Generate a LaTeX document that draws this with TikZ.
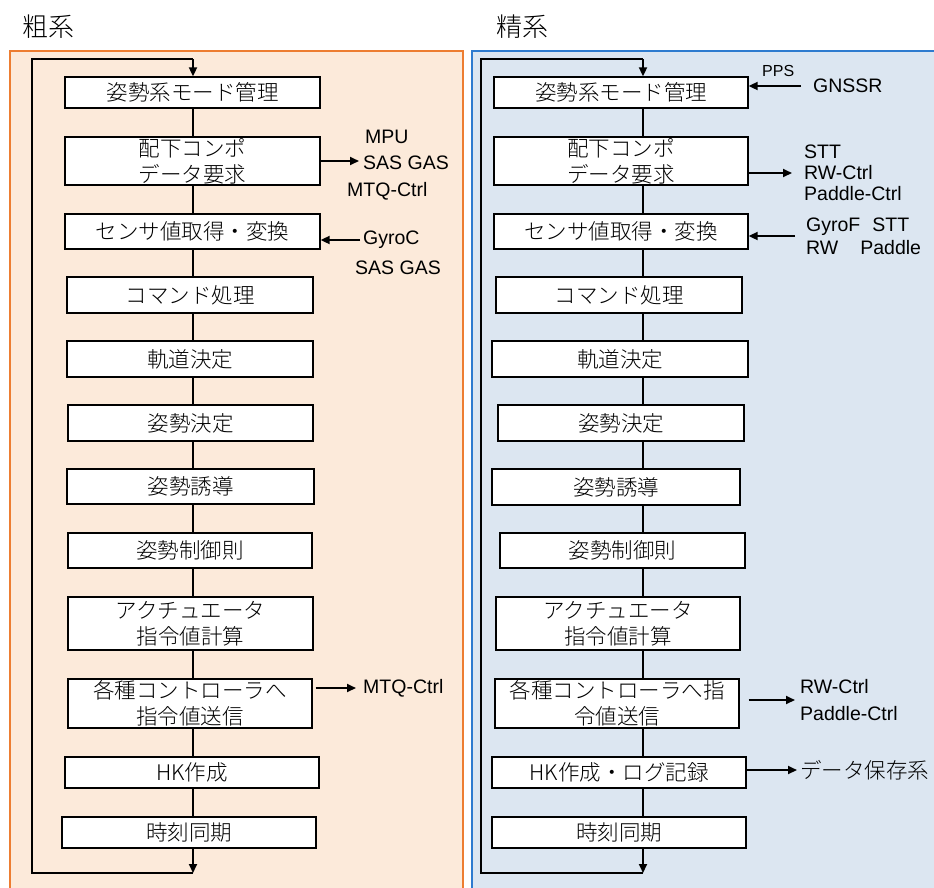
\documentclass[tikz,border=0pt]{standalone}
\usepackage{fontspec}
\setmainfont{Noto Sans CJK JP Light}
\newfontfamily\latinsans{Liberation Sans}
\usepackage{xcolor}
\usepackage{tikz}
\usetikzlibrary{arrows.meta}
\definecolor{coarsefill}{HTML}{FCEADA}
\definecolor{coarseline}{HTML}{ED7D31}
\definecolor{finefill}{HTML}{DCE6F1}
\definecolor{fineline}{HTML}{2E7BCF}

\begin{document}
\begin{tikzpicture}[x=1pt,y=-1pt,
  proc/.style={draw=black, line width=1.3pt, fill=white, inner sep=0pt,
    align=center, font=\fontsize{21.5}{26}\selectfont},
  lbl/.style={anchor=west, inner sep=0pt, align=left, font=\latinsans\fontsize{19.5}{21}\selectfont},
  flow/.style={line width=1.8pt},
  sig/.style={line width=1.8pt, -{Triangle[length=9pt,width=8pt]}}]
\clip (0,0) rectangle (934,887);
\fill[white] (0,0) rectangle (934,887);

% panels
\draw[coarseline, fill=coarsefill, line width=1.3pt] (10,51) rectangle (463,900);
\draw[fineline, fill=finefill, line width=1.3pt] (472,51) rectangle (950,900);
\node[font=\fontsize{26}{30}\selectfont] (tcoarse) at (49,27) {粗系};
\node[font=\fontsize{26}{30}\selectfont] (tfine) at (522,27) {精系};

% coarse loop
\coordinate (cs) at (193,0);
\coordinate (ctop) at (193,59);
\coordinate (cbot) at (193,873);
\coordinate (cleft) at (32,0);

\node[proc, minimum width=255pt, minimum height=31pt] (c1) at (192.5,92.5) {姿勢系モード管理};
\node[proc, minimum width=255pt, minimum height=48pt] (c2) at (192.5,161) {配下コンポ\\データ要求};
\node[proc, minimum width=255pt, minimum height=35pt] (c3) at (192.5,231.5) {センサ値取得・変換};
\node[proc, minimum width=246pt, minimum height=36pt] (c4) at (190,295) {コマンド処理};
\node[proc, minimum width=246pt, minimum height=36pt] (c5) at (190,359) {軌道決定};
\node[proc, minimum width=245pt, minimum height=36pt] (c6) at (190.5,423) {姿勢決定};
\node[proc, minimum width=247pt, minimum height=35pt] (c7) at (190.5,486.5) {姿勢誘導};
\node[proc, minimum width=244pt, minimum height=35pt] (c8) at (190,550.5) {姿勢制御則};
\node[proc, minimum width=245pt, minimum height=53pt] (c9) at (190.5,623.5) {アクチュエータ\\指令値計算};
\node[proc, minimum width=244pt, minimum height=49pt] (c10) at (190,703.5) {各種コントローラへ\\指令値送信};
\node[proc, minimum width=254pt, minimum height=31pt] (c11) at (192,772.5) {HK作成};
\node[proc, minimum width=254pt, minimum height=31pt] (c12) at (189,832.5) {時刻同期};

\foreach \a/\b in {c1/c2,c2/c3,c3/c4,c4/c5,c5/c6,c6/c7,c7/c8,c8/c9,c9/c10,c10/c11,c11/c12}
  \draw[flow] (cs |- \a.south) -- (cs |- \b.north);
\draw[sig] (cs |- c12.south) -- (cbot);
\draw[flow] (cbot) -- (cleft |- cbot) -- (cleft |- ctop) -- (ctop);
\draw[sig] (ctop) -- (cs |- c1.north);

\node[lbl] (mpu) at (365,137) {MPU};
\node[lbl] (sasgas1) at (363,163) {SAS GAS};
\node[lbl] (mtq1) at (347,191) {MTQ-Ctrl};
\node[lbl] (gyroc) at (363,240) {GyroC};
\node[lbl] (sasgas2) at (355,268) {SAS GAS};
\node[lbl] (mtq2) at (363,688) {MTQ-Ctrl};

\draw[sig, shorten >=4pt] (c2.east) -- (c2.east -| sasgas1.west);
\draw[sig, shorten <=3pt] (gyroc.west) -- (gyroc.west -| c3.east);
\draw[sig, shorten <=3pt, shorten >=7pt] (mtq2.west -| c10.east) -- (mtq2.west);

% fine loop
\coordinate (fs) at (643,0);
\coordinate (ftop) at (643,59);
\coordinate (fbot) at (643,873);
\coordinate (fleft) at (481,0);

\node[proc, minimum width=254pt, minimum height=31pt] (r1) at (621,92.5) {姿勢系モード管理};
\node[proc, minimum width=254pt, minimum height=48pt] (r2) at (621,161) {配下コンポ\\データ要求};
\node[proc, minimum width=254pt, minimum height=35pt] (r3) at (621,231.5) {センサ値取得・変換};
\node[proc, minimum width=246pt, minimum height=36pt] (r4) at (619,295) {コマンド処理};
\node[proc, minimum width=256pt, minimum height=36pt] (r5) at (620,359) {軌道決定};
\node[proc, minimum width=246pt, minimum height=36pt] (r6) at (621,423) {姿勢決定};
\node[proc, minimum width=248pt, minimum height=36pt] (r7) at (616,487) {姿勢誘導};
\node[proc, minimum width=245pt, minimum height=35pt] (r8) at (622.5,550.5) {姿勢制御則};
\node[proc, minimum width=244pt, minimum height=53pt] (r9) at (618,623.5) {アクチュエータ\\指令値計算};
\node[proc, minimum width=244pt, minimum height=49pt] (r10) at (617,703.5) {各種コントローラへ指\\令値送信};
\node[proc, minimum width=254pt, minimum height=31pt] (r11) at (619,772.5) {HK作成・ログ記録};
\node[proc, minimum width=254pt, minimum height=31pt] (r12) at (619,832.5) {時刻同期};

\foreach \a/\b in {r1/r2,r2/r3,r3/r4,r4/r5,r5/r6,r6/r7,r7/r8,r8/r9,r9/r10,r10/r11,r11/r12}
  \draw[flow] (fs |- \a.south) -- (fs |- \b.north);
\draw[sig] (fs |- r12.south) -- (fbot);
\draw[flow] (fbot) -- (fleft |- fbot) -- (fleft |- ftop) -- (ftop);
\draw[sig] (ftop) -- (fs |- r1.north);

\node[lbl, font=\latinsans\fontsize{16}{18}\selectfont] (pps) at (762,71) {PPS};
\node[lbl] (gnssr) at (813,86) {GNSSR};
\node[lbl] (stt1) at (804,173) {STT\\RW-Ctrl\\Paddle-Ctrl};
\node[lbl, font=\latinsans\fontsize{19.5}{23}\selectfont] (gyrof) at (806,236) {GyroF\hspace{12pt}STT\\RW\hspace{22pt}Paddle};
\node[lbl, font=\latinsans\fontsize{19.5}{27}\selectfont] (rwc) at (800,700) {RW-Ctrl\\Paddle-Ctrl};
\node[lbl, font=\fontsize{21.5}{24}\selectfont] (store) at (800,770) {データ保存系};

\draw[sig, shorten <=12pt] (gnssr.west) -- (gnssr.west -| r1.east);
\draw[sig, shorten >=12pt] (stt1.west -| r2.east) -- (stt1.west);
\draw[sig, shorten <=11pt] (gyrof.west) -- (gyrof.west -| r3.east);
\draw[sig, shorten <=9pt, shorten >=5pt] (rwc.west -| r10.east) -- (rwc.west);
\draw[sig, shorten >=3pt] (store.west -| r11.east) -- (store.west);
\end{tikzpicture}
\end{document}
